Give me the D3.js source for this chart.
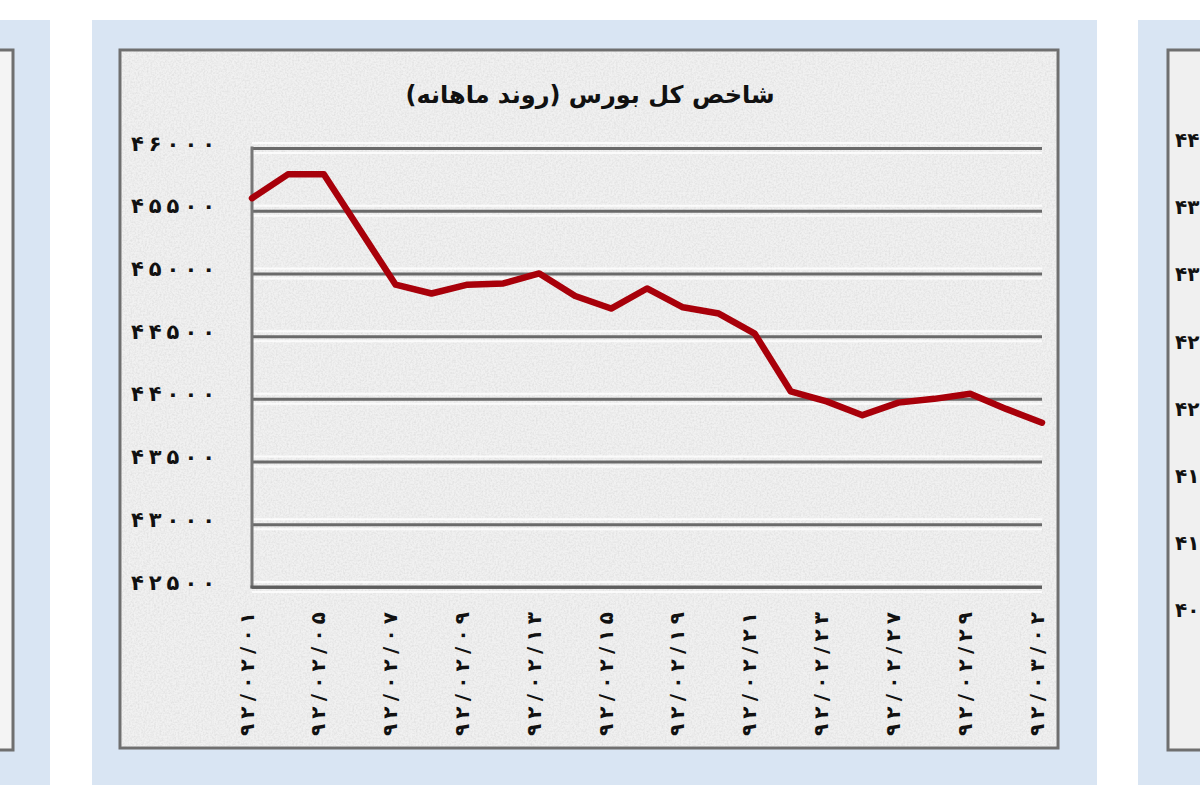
<!DOCTYPE html>
<html>
<head>
<meta charset="utf-8">
<script src="https://cdn.jsdelivr.net/npm/d3@7"></script>
<style>
  html, body { margin: 0; padding: 0; background: #ffffff; }
  svg { display: block; }
</style>
</head>
<body>
<svg id="chart" width="1200" height="800"></svg>
<script>
// ---- data ----
const title = "شاخص کل بورس (روند ماهانه)";
const dates = [
  "۹۲/۰۲/۰۱", "۹۲/۰۲/۰۲", "۹۲/۰۲/۰۵", "۹۲/۰۲/۰۶", "۹۲/۰۲/۰۷", "۹۲/۰۲/۰۸",
  "۹۲/۰۲/۰۹", "۹۲/۰۲/۱۲", "۹۲/۰۲/۱۳", "۹۲/۰۲/۱۴", "۹۲/۰۲/۱۵", "۹۲/۰۲/۱۶",
  "۹۲/۰۲/۱۹", "۹۲/۰۲/۲۰", "۹۲/۰۲/۲۱", "۹۲/۰۲/۲۲", "۹۲/۰۲/۲۳", "۹۲/۰۲/۲۶",
  "۹۲/۰۲/۲۷", "۹۲/۰۲/۲۸", "۹۲/۰۲/۲۹", "۹۲/۰۲/۳۰", "۹۲/۰۳/۰۲"
];
const indexValues = [
  45600, 45790, 45790, 45350, 44910, 44840,
  44910, 44920, 45000, 44820, 44720, 44880,
  44730, 44680, 44520, 44060, 43980, 43870,
  43970, 44000, 44040, 43920, 43810
];
const yTicks = [46000, 45500, 45000, 44500, 44000, 43500, 43000, 42500];
// visible leading digits of the neighbouring chart's axis (cut by the frame)
const neighbourTicks = ["۴۴", "۴۳", "۴۳", "۴۲", "۴۲", "۴۱", "۴۱", "۴۰"];

// ---- helpers ----
const faDigits = "۰۱۲۳۴۵۶۷۸۹";
const fa = n => String(n).replace(/\d/g, d => faDigits[d]);

// spread characters of a text over a target length (letter-spacing is ignored for Arabic script)
function spreadText(sel, targetLen) {
  sel.each(function() {
    const t = d3.select(this);
    const s = t.text();
    const natural = this.getComputedTextLength();
    const chars = Array.from(s);
    const gap = chars.length > 1 ? Math.max(0, (targetLen - natural) / (chars.length - 1)) : 0;
    t.text(null);
    chars.forEach((c, i) => t.append("tspan").attr("dx", i === 0 ? 0 : gap).text(c));
  });
}

const svg = d3.select("#chart");
const plot = { left: 252, right: 1042, top: 148, bottom: 587 };

// texture filter
const defs = svg.append("defs");
const filt = defs.append("filter").attr("id", "grain").attr("x", 0).attr("y", 0).attr("width", "100%").attr("height", "100%");
filt.append("feTurbulence").attr("type", "fractalNoise").attr("baseFrequency", 0.55).attr("numOctaves", 2).attr("seed", 4).attr("result", "noise");
filt.append("feColorMatrix").attr("in", "noise").attr("type", "matrix")
  .attr("values", "0 0 0 0 0.55  0 0 0 0 0.55  0 0 0 0 0.55  0 0 0 -1.4 0.9");

const fontFam = "'DejaVu Sans', sans-serif";
const panelBlue = "#d9e5f3";
const borderGray = "#6f6f6f";

// ---- neighbouring panels ----
svg.append("rect").attr("x", -20).attr("y", 20).attr("width", 70).attr("height", 765).attr("fill", panelBlue);
svg.append("rect").attr("x", -20).attr("y", 50).attr("width", 33).attr("height", 700)
  .attr("fill", "#f4f4f4").attr("stroke", borderGray).attr("stroke-width", 3);

svg.append("rect").attr("x", 1138).attr("y", 20).attr("width", 80).attr("height", 765).attr("fill", panelBlue);
svg.append("rect").attr("x", 1168).attr("y", 50).attr("width", 60).attr("height", 700)
  .attr("fill", "#f0f0f0").attr("stroke", borderGray).attr("stroke-width", 3);
svg.append("g").selectAll("text").data(neighbourTicks).join("text")
  .attr("x", 1175).attr("y", (d, i) => 140 + i * 67.2).attr("dy", "0.35em")
  .attr("font-family", fontFam).attr("font-weight", "bold").attr("font-size", 20)
  .attr("fill", "#111").attr("direction", "ltr")
  .text(d => d)
  .call(spreadText, 23);

// ---- main panel ----
svg.append("rect").attr("x", 92).attr("y", 20).attr("width", 1005).attr("height", 765).attr("fill", panelBlue);
svg.append("rect").attr("x", 120).attr("y", 50).attr("width", 938).attr("height", 698)
  .attr("fill", "#f1f1f1").attr("stroke", borderGray).attr("stroke-width", 3);
svg.append("rect").attr("x", 121).attr("y", 51).attr("width", 936).attr("height", 696)
  .attr("filter", "url(#grain)").attr("opacity", 0.5);

// title
svg.append("text").attr("x", 590).attr("y", 95).attr("dy", "0.35em")
  .attr("text-anchor", "middle").attr("direction", "rtl")
  .attr("font-family", fontFam).attr("font-weight", "bold").attr("font-size", 24)
  .attr("fill", "#111").text(title);

// scales
const x = d3.scalePoint().domain(dates).range([plot.left, plot.right]);
const y = d3.scaleLinear().domain([42500, 46000]).range([plot.bottom, plot.top]);

// white highlight stripes beside grid lines (print artefact)
svg.append("g").selectAll("line").data(yTicks.flatMap(t => [[t, -5], [t, 5]])).join("line")
  .attr("x1", plot.left).attr("x2", plot.right)
  .attr("y1", d => y(d[0]) + d[1]).attr("y2", d => y(d[0]) + d[1])
  .attr("stroke", "#ffffff").attr("stroke-width", 2).attr("opacity", 0.8);

// grid lines
const grid = svg.append("g").attr("transform", `translate(${plot.left},0)`)
  .call(d3.axisLeft(y).tickValues(yTicks).tickSize(-(plot.right - plot.left)).tickFormat(""));
grid.select(".domain").remove();
grid.selectAll("line").attr("stroke", "#6a6a6a").attr("stroke-width", 3);

// left axis line
svg.append("line").attr("x1", plot.left).attr("x2", plot.left)
  .attr("y1", plot.top - 1.5).attr("y2", plot.bottom + 1.5)
  .attr("stroke", "#777").attr("stroke-width", 3);

// y axis labels
const yAxis = svg.append("g").attr("transform", `translate(${plot.left},0)`)
  .call(d3.axisLeft(y).tickValues(yTicks).tickSize(0).tickPadding(37).tickFormat(fa));
yAxis.select(".domain").remove();
yAxis.selectAll("text")
  .attr("font-family", fontFam).attr("font-weight", "bold").attr("font-size", 21)
  .attr("fill", "#111").attr("direction", "ltr")
  .attr("dy", "0.1em")
  .call(spreadText, 84);

// x axis labels (every second date)
const xAxis = svg.append("g").attr("transform", `translate(0,${plot.bottom})`)
  .call(d3.axisBottom(x).tickValues(dates.filter((d, i) => i % 2 === 0)).tickSize(0).tickPadding(0));
xAxis.select(".domain").remove();
xAxis.selectAll("text")
  .attr("font-family", fontFam).attr("font-weight", "bold").attr("font-size", 20)
  .attr("fill", "#111").attr("direction", "ltr")
  .attr("text-anchor", "end").attr("y", 0).attr("dy", "0.35em")
  .attr("transform", "translate(-6,25) rotate(-90)")
  .call(spreadText, 124);

// bottom axis line
svg.append("line").attr("x1", plot.left - 1.5).attr("x2", plot.right)
  .attr("y1", plot.bottom).attr("y2", plot.bottom)
  .attr("stroke", "#5e5e5e").attr("stroke-width", 3);

// the series line
const line = d3.line().x((d, i) => x(dates[i])).y(d => y(d));
svg.append("path").datum(indexValues)
  .attr("d", line).attr("fill", "none")
  .attr("stroke", "#a8000a").attr("stroke-width", 6.5)
  .attr("stroke-linejoin", "round").attr("stroke-linecap", "round");
</script>
</body>
</html>
